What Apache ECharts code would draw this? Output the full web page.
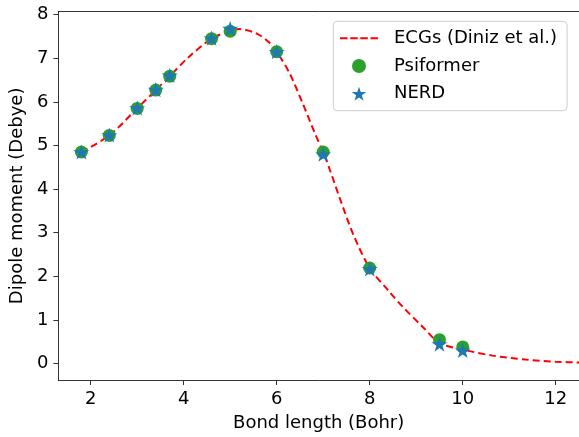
<!DOCTYPE html>
<html>
<head>
<meta charset="utf-8">
<script src="https://cdn.jsdelivr.net/npm/echarts@6/dist/echarts.min.js"></script>
<style>html,body{margin:0;padding:0;background:#fff;}#c{width:579px;height:437px;}</style>
</head>
<body>
<div id="c"></div>
<script>
// ECGs (Diniz et al.) reference curve
const ecgX = [1.8, 2.4, 3.0, 3.4, 3.7, 4.1, 4.6, 5.0, 5.2, 5.58, 5.84, 6.0, 6.27, 6.55, 6.84, 7.0, 7.15, 7.37, 7.65, 8.0, 8.41, 8.71, 9.13, 9.5, 10.0, 10.64, 11.35, 12.0, 12.6];
const ecgY = [4.85, 5.23, 5.85, 6.27, 6.59, 7.02, 7.45, 7.63, 7.67, 7.56, 7.36, 7.15, 6.67, 5.99, 5.23, 4.85, 4.42, 3.75, 2.95, 2.19, 1.66, 1.30, 0.85, 0.47, 0.32, 0.18, 0.09, 0.04, 0.02];
// Psiformer
const psiX = [1.8, 2.4, 3.0, 3.4, 3.7, 4.6, 5.0, 6.0, 7.0, 8.0, 9.5, 10.0];
const psiY = [4.85, 5.23, 5.85, 6.27, 6.59, 7.45, 7.62, 7.15, 4.85, 2.19, 0.545, 0.38];
// NERD
const nerdX = [1.8, 2.4, 3.0, 3.4, 3.7, 4.6, 5.0, 6.0, 7.0, 8.0, 9.5, 10.0];
const nerdY = [4.85, 5.24, 5.86, 6.28, 6.61, 7.46, 7.68, 7.15, 4.80, 2.17, 0.445, 0.30];
const xTicks = [2, 4, 6, 8, 10, 12];
const yTicks = [0, 1, 2, 3, 4, 5, 6, 7, 8];

const zip = (a, b) => a.map((v, i) => [v, b[i]]);
const FONT = 'DejaVu Sans';
const star = 'path://M50 0 L61.23 34.55 L97.55 34.55 L68.16 55.9 L79.39 90.45 L50 69.1 L20.61 90.45 L31.84 55.9 L2.45 34.55 L38.77 34.55 Z';
const dashIcon = 'path://M0 -6 L0.01 -6 L0 -6 Z M0 8 L0.01 8 L0 8 Z M0 0 L7.5 0 L7.5 2 L0 2 Z M10.2 0 L17.7 0 L17.7 2 L10.2 2 Z M20.3 0 L27.8 0 L27.8 2 L20.3 2 Z M30.5 0 L38 0 L38 2 L30.5 2 Z';
const axisCol = '#333';

const chart = echarts.init(document.getElementById('c'), null, {renderer: 'canvas'});
chart.setOption({
  animation: false,
  textStyle: {fontFamily: FONT},
  grid: {left: 55.7, right: -1.4, top: 11.7, bottom: 53, containLabel: false},
  xAxis: [{
    type: 'value', min: 1.305, max: 12.5, position: 'bottom',
    name: 'Bond length (Bohr)', nameLocation: 'middle', nameGap: 34,
    nameTextStyle: {fontSize: 18, color: '#000', fontFamily: FONT},
    axisLine: {show: true, onZero: false, lineStyle: {color: axisCol, width: 1}},
    axisTick: {show: true, length: 5, customValues: xTicks, lineStyle: {color: axisCol}},
    axisLabel: {fontSize: 18, color: '#000', margin: 10, customValues: xTicks, fontFamily: FONT},
    splitLine: {show: false}
  }, {
    type: 'value', min: 1.305, max: 12.5, position: 'top',
    axisLine: {show: true, onZero: false, lineStyle: {color: axisCol, width: 1}},
    axisTick: {show: false}, axisLabel: {show: false}, splitLine: {show: false}
  }],
  yAxis: {
    type: 'value', min: -0.379, max: 8.068,
    name: 'Dipole moment (Debye)', nameLocation: 'middle', nameGap: 25, nameRotate: 90,
    nameTextStyle: {fontSize: 18, color: '#000', fontFamily: FONT},
    axisLine: {show: true, onZero: false, lineStyle: {color: axisCol, width: 1}},
    axisTick: {show: true, length: 5, customValues: yTicks, lineStyle: {color: axisCol}},
    axisLabel: {fontSize: 18, color: '#000', margin: 10, customValues: yTicks, fontFamily: FONT},
    splitLine: {show: false}
  },
  legend: {
    orient: 'vertical', left: 333.3, top: 21.3,
    padding: [8, 10, 8, 6.7],
    itemWidth: 38, itemHeight: 14, itemGap: 9.7,
    backgroundColor: 'rgba(255,255,255,0.8)', borderColor: '#ccc', borderWidth: 1, borderRadius: 4,
    textStyle: {fontSize: 18, color: '#000', fontFamily: FONT, lineHeight: 18, padding: [0, 0, 0, 11]},
    data: [
      {name: 'ECGs (Diniz et al.)', icon: dashIcon},
      {name: 'Psiformer'},
      {name: 'NERD'}
    ]
  },
  series: [{
    name: 'ECGs (Diniz et al.)', type: 'line', data: zip(ecgX, ecgY),
    symbol: 'none', smooth: 0.3, z: 1,
    lineStyle: {color: '#ff0000', width: 2, type: [7, 4]},
    itemStyle: {color: '#ff0000'}
  }, {
    name: 'Psiformer', type: 'scatter', data: zip(psiX, psiY),
    symbol: 'circle', symbolSize: 13, z: 2,
    itemStyle: {color: '#2ca02c', opacity: 1}
  }, {
    name: 'NERD', type: 'scatter', data: zip(nerdX, nerdY),
    symbol: star, symbolSize: 16, symbolKeepAspect: true, z: 3,
    itemStyle: {color: '#1f77b4', opacity: 1}
  }]
});
</script>
</body>
</html>
